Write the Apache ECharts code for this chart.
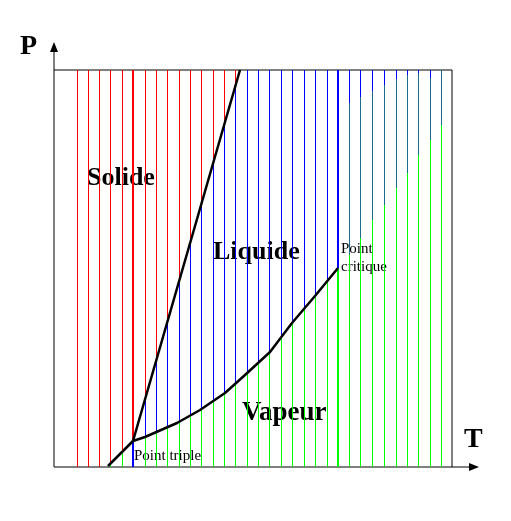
<!DOCTYPE html>
<html>
<head>
<meta charset="utf-8">
<script src="https://cdn.jsdelivr.net/npm/echarts@6/dist/echarts.min.js"></script>
<style>html,body{margin:0;padding:0;background:#fff}#main{width:511px;height:521px}</style>
</head>
<body>
<div id="main"></div>
<script>
// positions des isothermes (T)
let isothermes = [23, 34, 45, 56, 68, 79, 91, 102, 113, 125, 136, 147, 159, 170, 181, 193, 204, 215, 227, 238, 250, 261, 273, 284, 295, 306, 318, 330, 342, 353, 364, 376, 387];
// courbe de sublimation
let sublimation = [[54, 1], [79, 26]];
// courbe de fusion
let fusion = [[79, 26], [186, 397]];
// courbe de vaporisation
let vaporisation = [[79, 26], [91, 30], [123, 44], [146, 57], [171, 74], [191, 92], [216, 115], [238, 144], [261, 171], [284, 199]];
// au dela du point critique : debut du vert et du bleu-vert
let superT = [295, 306, 318, 330, 342, 353, 364, 376, 387];
let superVert = [212, 229, 247, 262, 279, 294, 312, 327, 342];
let superTeal = [364, 370, 376, 382, 388, 392, 394, 389, 397];

function interp(pts, x) {
  if (x <= pts[0][0]) return 0;
  for (let i = 0; i < pts.length - 1; i++) {
    let a = pts[i], b = pts[i + 1];
    if (x >= a[0] && x <= b[0]) return a[1] + (b[1] - a[1]) * (x - a[0]) / (b[0] - a[0]);
  }
  return null;
}

let segs = [];
function seg(x, y0, y1, color, w) {
  if (y1 > y0) segs.push({ coords: [[x, y0], [x, y1]], lineStyle: { color: color, width: w, opacity: 1 } });
}
const ROUGE = "#ff0000", BLEU = "#0000ff", VERT = "#00ff00", TEAL = "#1a6e8a", TOP = 397;
isothermes.forEach(function(x) {
  let w = (x === 79 || x === 284) ? 2 : 1;
  if (x < 79) {
    let ys = interp(sublimation, x);
    seg(x, 0, ys, VERT, w);
    seg(x, ys, TOP, ROUGE, w);
  } else if (x <= 284) {
    let yv = interp(vaporisation, x);
    seg(x, 0, yv, VERT, w);
    if (x < 186) {
      // hauteur ou la courbe de fusion croise l'isotherme
      let yf = fusion[0][1] + (x - fusion[0][0]) * (fusion[1][1] - fusion[0][1]) / (fusion[1][0] - fusion[0][0]);
      seg(x, yv, yf, BLEU, w);
      seg(x, yf, TOP, ROUGE, w);
    } else {
      seg(x, yv, TOP, BLEU, w);
    }
  } else {
    let k = superT.indexOf(x);
    seg(x, 0, superVert[k], VERT, w);
    seg(x, superVert[k], superTeal[k], TEAL, w);
    seg(x, superTeal[k], TOP, BLEU, w);
  }
});

let myChart = echarts.init(document.getElementById("main"));
let serif = "Liberation Serif";
let option = {
  animation: false,
  grid: { left: 54, top: 70, width: 398, height: 397, show: true, borderColor: "#000", borderWidth: 1 },
  xAxis: { type: "value", min: 0, max: 398, axisLabel: { show: false }, axisTick: { show: false }, splitLine: { show: false }, axisLine: { show: false } },
  yAxis: { type: "value", min: 0, max: 397, axisLabel: { show: false }, axisTick: { show: false }, splitLine: { show: false }, axisLine: { show: false } },
  series: [
    { type: "lines", coordinateSystem: "cartesian2d", data: segs, silent: true, z: 1, lineStyle: { opacity: 1 } },
    { type: "line", data: sublimation, showSymbol: false, lineStyle: { color: "#000", width: 2.5 }, z: 3 },
    { type: "line", data: fusion, showSymbol: false, lineStyle: { color: "#000", width: 2.5 }, z: 3 },
    { type: "line", data: vaporisation, showSymbol: false, lineStyle: { color: "#000", width: 2.5 }, z: 3 }
  ],
  graphic: [
    { type: "line", shape: { x1: 54, y1: 70, x2: 54, y2: 48 }, style: { stroke: "#000", lineWidth: 1 } },
    { type: "polygon", shape: { points: [[54, 42], [50, 52], [58, 52]] }, style: { fill: "#000" } },
    { type: "line", shape: { x1: 452, y1: 467, x2: 472, y2: 467 }, style: { stroke: "#000", lineWidth: 1 } },
    { type: "polygon", shape: { points: [[479, 467], [469, 463], [469, 471]] }, style: { fill: "#000" } },
    { type: "text", left: 20, top: 33, style: { text: "P", font: "bold 28px " + serif, fill: "#000" } },
    { type: "text", left: 464, top: 426, style: { text: "T", font: "bold 28px " + serif, fill: "#000" } },
    { type: "text", left: 87, top: 165, style: { text: "Solide", font: "bold 26px " + serif, fill: "#000" } },
    { type: "text", left: 213, top: 239, style: { text: "Liquide", font: "bold 26px " + serif, fill: "#000" } },
    { type: "text", left: 242, top: 400, style: { text: "Vapeur", font: "bold 27px " + serif, fill: "#000" } },
    { type: "text", left: 134, top: 449, style: { text: "Point triple", font: "15px " + serif, fill: "#000" } },
    { type: "text", left: 341, top: 240, style: { text: "Point\ncritique", font: "15px " + serif, fill: "#000", lineHeight: 18 } }
  ]
};
myChart.setOption(option);
</script>
</body>
</html>
